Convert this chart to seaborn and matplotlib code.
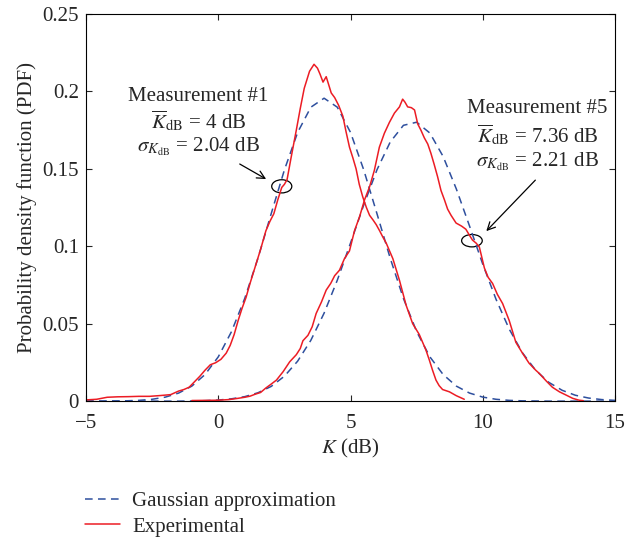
import numpy as np
import pandas as pd
import matplotlib
matplotlib.use("Agg")
import matplotlib.pyplot as plt
import seaborn as sns
from matplotlib.patches import Ellipse

# --- data ---
k_grid = [-5, -4.5, -4, -3.5, -3, -2.5, -2, -1.5, -1, -0.5,
          0, 0.5, 1, 1.5, 2, 2.5, 3, 3.5, 4, 4.5,
          5, 5.5, 6, 6.5, 7, 7.5, 8, 8.5, 9, 9.5,
          10, 10.5, 11, 11.5, 12, 12.5, 13, 13.5, 14, 14.5, 15]
gauss_m1 = [0.0, 0.0, 0.0001, 0.0002, 0.0005, 0.0012, 0.0026, 0.0052, 0.0097, 0.0172,
            0.0286, 0.0449, 0.0663, 0.0923, 0.1210, 0.1493, 0.1735, 0.1898, 0.1956, 0.1898,
            0.1735, 0.1493, 0.1210, 0.0923, 0.0663, 0.0449, 0.0286, 0.0172, 0.0097, 0.0052,
            0.0026, 0.0012, 0.0005, 0.0002, 0.0001, 0.0, 0.0, 0.0, 0.0, 0.0, 0.0]
gauss_m5 = [0.0, 0.0, 0.0, 0.0, 0.0, 0.0, 0.0, 0.0, 0.0001, 0.0003,
            0.0007, 0.0015, 0.0029, 0.0054, 0.0095, 0.0161, 0.0258, 0.0393, 0.0568, 0.0781,
            0.1021, 0.1267, 0.1494, 0.1673, 0.1781, 0.1801, 0.1731, 0.1580, 0.1370, 0.1130,
            0.0884, 0.0658, 0.0465, 0.0312, 0.0199, 0.0121, 0.0070, 0.0038, 0.0020, 0.0010, 0.0005]

k_exp1 = [-5.0, -4.6, -4.2, -3.8, -3.4, -3.0, -2.6, -2.2, -1.8, -1.5, -1.3, -1.1, -0.9, -0.7,
          -0.5, -0.3, -0.1, 0.1, 0.3, 0.45, 0.6, 0.75, 0.9, 1.05, 1.2, 1.4, 1.6, 1.8, 1.95,
          2.1, 2.25, 2.4, 2.5, 2.6, 2.75, 2.95, 3.1, 3.25, 3.45, 3.62, 3.75, 3.85, 3.96, 4.08,
          4.18, 4.27, 4.4, 4.55, 4.71, 4.83, 4.96, 5.09, 5.21, 5.33, 5.46, 5.6, 5.72, 5.85,
          5.97, 6.1, 6.22, 6.35, 6.6, 6.85, 7.1, 7.35, 7.6, 7.85, 7.98, 8.1, 8.23, 8.35, 8.48,
          8.74, 9.0, 9.3]
pdf_exp1 = [0.0008, 0.0012, 0.0025, 0.0028, 0.0029, 0.0031, 0.0031, 0.0036, 0.0042, 0.0065,
            0.0075, 0.009, 0.0125, 0.016, 0.020, 0.0235, 0.0248, 0.027, 0.031, 0.036, 0.043,
            0.052, 0.060, 0.067, 0.076, 0.087, 0.098, 0.110, 0.116, 0.121, 0.130, 0.138, 0.140,
            0.143, 0.157, 0.175, 0.189, 0.202, 0.213, 0.2175, 0.215, 0.211, 0.206, 0.2095,
            0.204, 0.199, 0.196, 0.191, 0.184, 0.174, 0.164, 0.157, 0.150, 0.140, 0.132, 0.125,
            0.120, 0.117, 0.114, 0.110, 0.106, 0.102, 0.092, 0.078, 0.062, 0.050, 0.043, 0.033,
            0.0265, 0.020, 0.0136, 0.010, 0.0075, 0.006, 0.0035, 0.0012]

k_exp5 = [-1.0, -0.5, 0.0, 0.4, 0.7, 1.0, 1.2, 1.4, 1.6, 1.8, 2.0, 2.2, 2.45, 2.7, 2.95, 3.1,
          3.2, 3.39, 3.55, 3.7, 3.9, 4.08, 4.25, 4.4, 4.58, 4.77, 4.96, 5.15, 5.34, 5.53, 5.72,
          5.9, 6.09, 6.28, 6.47, 6.66, 6.85, 6.97, 7.06, 7.16, 7.3, 7.42, 7.54, 7.66, 7.79,
          7.92, 8.04, 8.16, 8.29, 8.42, 8.55, 8.67, 8.8, 8.99, 9.2, 9.36, 9.5, 9.61, 9.75, 9.87,
          10.06, 10.2, 10.37, 10.55, 10.75, 11.0, 11.25, 11.5, 11.75, 12.0, 12.13, 12.4, 12.63,
          12.9, 13.14, 13.4, 13.64, 13.8]
pdf_exp5 = [0.0004, 0.0005, 0.0006, 0.001, 0.0017, 0.0025, 0.0032, 0.0045, 0.0056, 0.0085,
            0.011, 0.0136, 0.019, 0.0254, 0.030, 0.034, 0.039, 0.0425, 0.048, 0.0566, 0.064,
            0.0717, 0.076, 0.081, 0.0845, 0.092, 0.097, 0.110, 0.119, 0.130, 0.1384, 0.149,
            0.164, 0.173, 0.180, 0.186, 0.190, 0.195, 0.193, 0.190, 0.1895, 0.188, 0.179, 0.175,
            0.170, 0.166, 0.160, 0.153, 0.145, 0.136, 0.130, 0.124, 0.120, 0.115, 0.113, 0.111,
            0.107, 0.104, 0.102, 0.0995, 0.086, 0.080, 0.076, 0.069, 0.063, 0.052, 0.038, 0.031,
            0.0245, 0.020, 0.018, 0.013, 0.009, 0.006, 0.004, 0.0018, 0.0006, 0.0003]

x_ticks = [-5, 0, 5, 10, 15]
x_ticklabels = ["\u22125", "0", "5", "10", "15"]
y_ticks = [0, 0.05, 0.1, 0.15, 0.2, 0.25]
y_ticklabels = ["0", "0.05", "0.1", "0.15", "0.2", "0.25"]

sns.set_style("ticks")
plt.rcParams['font.family'] = ['Liberation Serif', 'DejaVu Serif']
plt.rcParams['mathtext.fontset'] = 'stix'
plt.rcParams['font.size'] = 15

RED = '#ec1c24'
BLUE = '#2e4f9e'
FS = 15

fig = plt.figure(figsize=(6.42, 5.37), dpi=100)
ax = fig.add_axes([0.134, 0.253, 0.824, 0.721])

sns.lineplot(x=k_grid, y=gauss_m1, ax=ax, color=BLUE, lw=1.1, linestyle=(0, (5, 3.5)),
             label="Gaussian approximation", legend=False)
sns.lineplot(x=k_grid, y=gauss_m5, ax=ax, color=BLUE, lw=1.1, linestyle=(0, (5, 3.5)),
             legend=False)
sns.lineplot(x=k_exp1, y=pdf_exp1, ax=ax, color=RED, lw=1.1, label="Experimental",
             legend=False, sort=False)
sns.lineplot(x=k_exp5, y=pdf_exp5, ax=ax, color=RED, lw=1.1, legend=False, sort=False)

ax.set_xlim(-5, 15)
ax.set_ylim(0, 0.25)
ax.set_xticks(x_ticks)
ax.set_xticklabels(x_ticklabels)
ax.set_yticks(y_ticks)
ax.set_yticklabels(y_ticklabels)
ax.tick_params(direction='in', top=True, right=True, labelsize=FS, length=4, width=0.8)
ax.tick_params(axis='x', pad=9)
ax.tick_params(axis='y', pad=5)
for s in ax.spines.values():
    s.set_linewidth(0.8)
    s.set_color('black')
ax.set_xlabel("$K$ (dB)", fontsize=FS, labelpad=3)
ax.set_ylabel("Probability density function (PDF)", fontsize=FS, labelpad=4)

# annotations
ax.text(-0.75, 0.197, "Measurement #1", ha='center', va='center', fontsize=FS)
ax.text(-0.75, 0.181, r"$\overline{K}_{\mathrm{dB}}$ = 4 dB", ha='center', va='center', fontsize=FS)
ax.text(-0.75, 0.1645, r"$\sigma_{K_{\mathrm{dB}}}$ = 2.04 dB", ha='center', va='center', fontsize=FS)
ax.add_patch(Ellipse((2.4, 0.1387), 0.76, 0.0085, fill=False, ec='black', lw=0.9))
ax.annotate('', xy=(1.9, 0.1425), xytext=(0.72, 0.154),
            arrowprops=dict(arrowstyle='->', lw=0.9, color='black', mutation_scale=14))

ax.text(12.06, 0.189, "Measurement #5", ha='center', va='center', fontsize=FS)
ax.text(12.06, 0.172, r"$\overline{K}_{\mathrm{dB}}$ = 7.36 dB", ha='center', va='center', fontsize=FS)
ax.text(12.06, 0.1545, r"$\sigma_{K_{\mathrm{dB}}}$ = 2.21 dB", ha='center', va='center', fontsize=FS)
ax.add_patch(Ellipse((9.59, 0.1036), 0.78, 0.008, fill=False, ec='black', lw=0.9))
ax.annotate('', xy=(10.06, 0.1085), xytext=(12.06, 0.144),
            arrowprops=dict(arrowstyle='->', lw=0.9, color='black', mutation_scale=14))

handles, labels = ax.get_legend_handles_labels()
fig.legend(handles, labels, loc='upper left', bbox_to_anchor=(0.1324, 0.085),
           frameon=False, fontsize=FS, handlelength=1.7, handletextpad=0.55,
           labelspacing=0.3, borderpad=0, borderaxespad=0)

fig.savefig("out.png", dpi=100)
